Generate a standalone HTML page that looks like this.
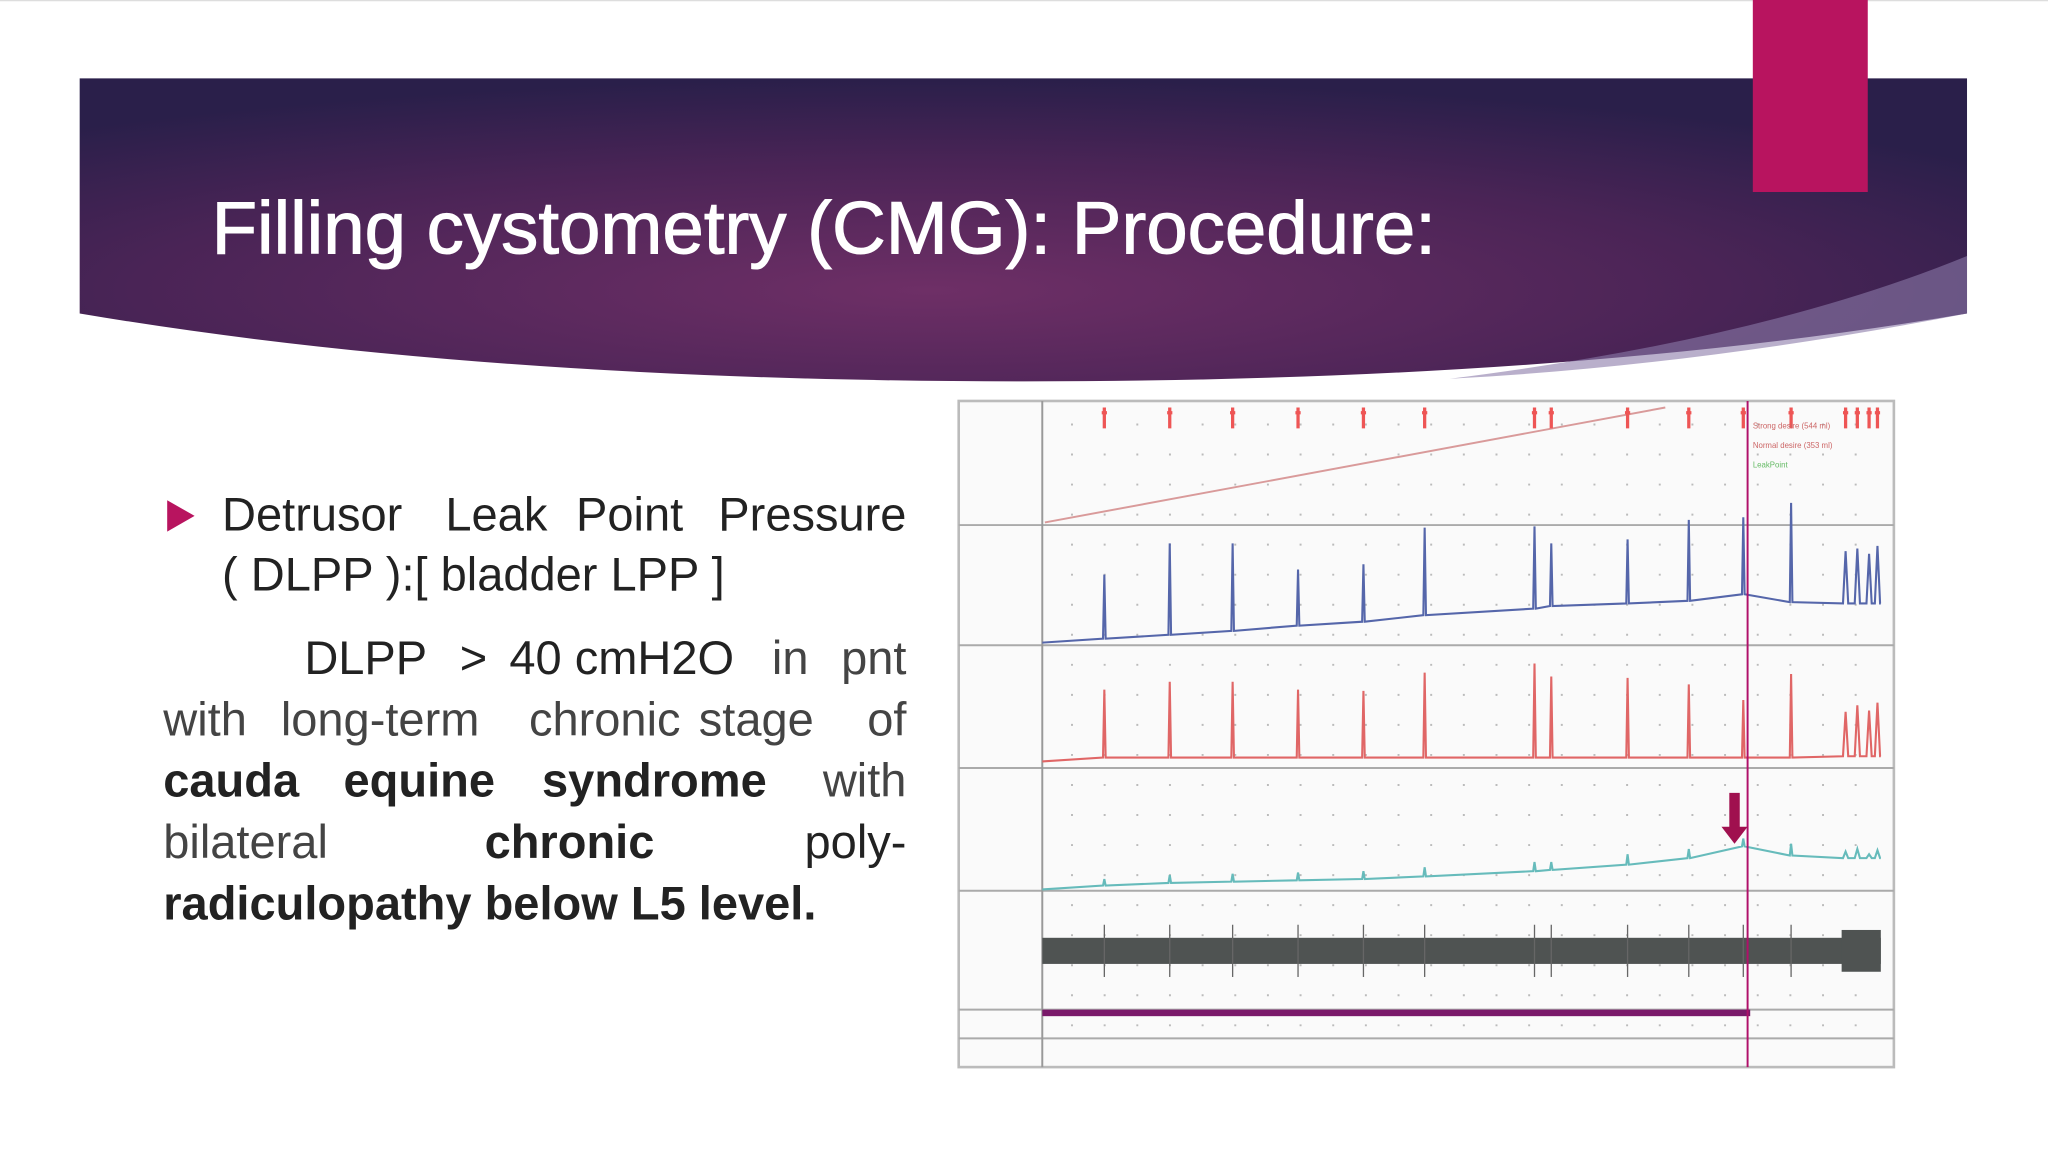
<!DOCTYPE html>
<html><head><meta charset="utf-8"><style>
html,body{margin:0;padding:0;background:#fff;width:2048px;height:1152px;overflow:hidden}
svg{display:block}
text{font-family:"Liberation Sans",sans-serif}
</style></head><body>
<svg id="s" width="2048" height="1152" viewBox="0 0 1568 882" xmlns="http://www.w3.org/2000/svg">
<defs>
<radialGradient id="hg" cx="0.45" cy="0.7" r="0.7">
<stop offset="0" stop-color="#6e2f66"/><stop offset="0.6" stop-color="#4a2456"/><stop offset="1" stop-color="#2a1f4a"/>
</radialGradient>
</defs>
<rect x="0" y="0" width="1568" height="882" fill="#fff"/>
<line x1="0" y1="0.5" x2="1568" y2="0.5" stroke="#ddd"/>
<path d="M61,60 H1506 V240 Q1200,292 784,292 Q368,292 61,240 Z" fill="url(#hg)"/>
<path d="M1110,290 Q1350,260 1506,196 V240 Q1300,280 1110,290Z" fill="#8a7aa8" opacity="0.6"/>
<rect x="1342" y="0" width="88" height="147" fill="#b8145f"/>
<text x="162" y="194" font-size="57" fill="#fff" stroke="#fff" stroke-width="0.8">Filling cystometry (CMG): Procedure:</text>

<polygon points="128,383 149,395 128,407" fill="#b8145f"/>
<g font-size="36" fill="#222">
<text x="170" y="406">Detrusor</text><text x="341" y="406">Leak</text><text x="441" y="406">Point</text><text x="694" y="406" text-anchor="end">Pressure</text>
<text x="170" y="452">( DLPP ):[ bladder LPP ]</text>
<text x="233" y="516">DLPP</text><text x="352" y="516">&gt;</text><text x="390" y="516">40 cmH2O</text><text x="591" y="516" fill="#444">in</text><text x="694" y="516" text-anchor="end" fill="#444">pnt</text>
<g fill="#444"><text x="125" y="563">with</text><text x="215" y="563">long-term</text><text x="405" y="563">chronic</text><text x="535" y="563">stage</text><text x="694" y="563" text-anchor="end">of</text></g>
<g font-weight="bold"><text x="125" y="610">cauda</text><text x="263" y="610">equine</text><text x="415" y="610">syndrome</text></g><text x="694" y="610" text-anchor="end" fill="#444">with</text>
<text x="125" y="657" fill="#444">bilateral</text><text x="371" y="657" font-weight="bold">chronic</text><text x="694" y="657" text-anchor="end">poly-</text>
<text x="125" y="704" font-weight="bold">radiculopathy below L5 level.</text>
</g>

<g id="chart"></g>
</svg>
<script>
const spikeTimes=[7.4,15.2,22.7,30.5,38.3,45.6,58.7,60.7,69.8,77.1,83.6,89.3];
const clusterTimes=[95.8,97.2,98.6,99.6];
const blueBase=[489,486,483,479,476,471,466,464,462,460,455,461];
const blueTops=[440,416,416,436,432,404,403,416,413,398,396,385];
const redTops=[528,522,522,528,529,515,508,518,519,524,536,516];
const cyanBase=[678,676,675,674,673,671,667,666,662,657,648,655];
const cyanTops=[673,670,669,668,667,664,660,660,654,650,642,646];
const blueCluster=[422,420,424,418];
const redCluster=[545,540,544,538];
const cyanCluster=[652,650,654,651];
const labels=["Strong desire (544 ml)","Normal desire (353 ml)","LeakPoint"];
const NS="http://www.w3.org/2000/svg";
const g=document.getElementById('chart');
const X=t=>798+t*6.42;
function el(tag,attrs,parent){const e=document.createElementNS(NS,tag);for(const k in attrs)e.setAttribute(k,attrs[k]);(parent||g).appendChild(e);return e;}
let f=el('rect',{x:734,y:307,width:716,height:510,fill:'#fafafa',stroke:'#bbb','stroke-width':2});


[402,494,588,682,773,795].forEach(y=>{const l=el('line',{x1:734,x2:1450,y1:y,y2:y,stroke:'#aaa','stroke-width':1.5});

});
let ax=el('line',{x1:798,x2:798,y1:307,y2:817,stroke:'#999','stroke-width':1.5});


let dots='';for(let x=820;x<1440;x+=25)for(let y=325;y<800;y+=23)dots+=`M${x},${y}h1.5`;
el('path',{d:dots,stroke:'#bbb','stroke-width':1.5});
let vl=el('line',{x1:800,y1:400,x2:1275,y2:312,stroke:'#d99a9a','stroke-width':1.5});


spikeTimes.concat(clusterTimes).forEach(t=>{const m=el('path',{d:`M${X(t)},312v16M${X(t)-2},316h4`,stroke:'#e55','stroke-width':2.5});

});
labels.forEach((s,i)=>{const tx=el('text',{x:1342,y:328+i*15,'font-size':6,fill:i==2?'#6b6':'#c66'});tx.textContent=s;

});
function trace(base,tops,cl,clTop,endBase,color,name){
 let d=`M${X(0)},${base[0]+3}`;
 spikeTimes.forEach((t,i)=>{d+=` L${X(t)-1},${base[i]} L${X(t)},${tops[i]} L${X(t)+1},${base[i]}`;});
 clusterTimes.forEach((t,i)=>{d+=` L${X(t)-2},${endBase} L${X(t)},${clTop[i]} L${X(t)+2},${endBase}`;});
 d+=` L${X(100)},${endBase}`;
 const p=el('path',{d:d,fill:'none',stroke:color,'stroke-width':1.6});
 
 
}
trace(blueBase,blueTops,clusterTimes,blueCluster,462,'#5566aa','pves-trace');
trace(spikeTimes.map(()=>580),redTops,clusterTimes,redCluster,579,'#e06666','pabd-trace');
trace(cyanBase,cyanTops,clusterTimes,cyanCluster,657,'#66bbbb','pdet-trace');
let emg=el('rect',{x:798,y:718,width:642,height:20,fill:'#4f5352'});


spikeTimes.forEach(t=>el('line',{x1:X(t),x2:X(t),y1:708,y2:748,stroke:'#666','stroke-width':1}));
el('rect',{x:1410,y:712,width:30,height:32,fill:'#4f5352'});
let pb=el('rect',{x:798,y:773,width:542,height:5,fill:'#7a1a6a'});


let cur=el('line',{x1:1338,x2:1338,y1:307,y2:817,stroke:'#b0106a','stroke-width':1.5});


let ar=el('path',{d:'M1324,607h8v26h6l-10,13l-10,-13h6z',fill:'#a0104f'});


</script>
</body></html>
